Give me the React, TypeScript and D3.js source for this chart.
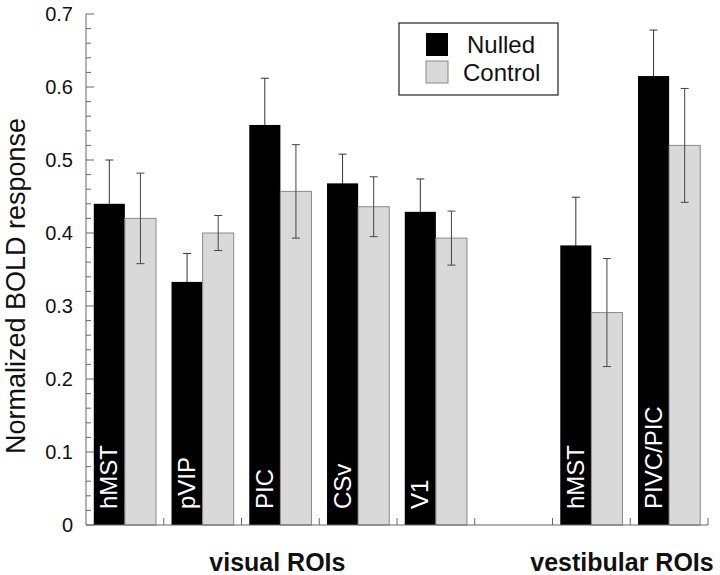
import React from "react";
import * as d3 from "d3";

const categories = ["hMST", "pVIP", "PIC", "CSv", "V1", "", "hMST", "PIVC/PIC"];
const slots = ["s0", "s1", "s2", "s3", "s4", "s5", "s6", "s7"];
const nulledValues = [0.44, 0.333, 0.548, 0.468, 0.429, null, 0.383, 0.615];
const nulledErrors = [0.06, 0.039, 0.064, 0.04, 0.045, null, 0.066, 0.063];
const controlValues = [0.42, 0.4, 0.457, 0.436, 0.393, null, 0.291, 0.52];
const controlErrors = [0.062, 0.024, 0.064, 0.041, 0.037, null, 0.074, 0.078];
const yTicks = [0, 0.1, 0.2, 0.3, 0.4, 0.5, 0.6, 0.7];
const yTickLabels = ["0", "0.1", "0.2", "0.3", "0.4", "0.5", "0.6", "0.7"];
const groupLabels = ["visual ROIs", "vestibular ROIs"];
const legendLabels = ["Nulled", "Control"];
const yTitle = "Normalized BOLD response";

const W = 720;
const H = 575;
const left = 86;
const right = 708;
const top = 14;
const bottom = 525;
const FONT = "'Liberation Sans', Arial, sans-serif";
const GRAY = "#d9d9d9";

export default function App() {
  const x = d3.scaleBand<string>().domain(slots).range([left, right]).paddingInner(0).paddingOuter(0);
  const y = d3.scaleLinear().domain([0, 0.7]).range([bottom, top]);
  const pad = x.bandwidth() * 0.1;
  const bw = (x.bandwidth() - 2 * pad) / 2;
  const minor = d3.range(0, 0.7001, 0.02);
  const cap = 4;

  const errBar = (cx: number, v: number, e: number, color: string, lowColor: string, key: string) => (
    <g key={key} strokeWidth={1}>
      <line x1={cx} x2={cx} y1={y(v + e)} y2={y(v)} stroke={color} />
      <line x1={cx} x2={cx} y1={y(v)} y2={y(v - e)} stroke={lowColor} />
      <line x1={cx - cap} x2={cx + cap} y1={y(v + e)} y2={y(v + e)} stroke={color} />
      <line x1={cx - cap} x2={cx + cap} y1={y(v - e)} y2={y(v - e)} stroke={lowColor} />
    </g>
  );

  return (
    <svg width={W} height={H} style={{ position: "absolute", left: 0, top: 0, background: "#fff" }} fontFamily={FONT}>
      {/* bars */}
      {slots.map((s, i) => {
        const nv = nulledValues[i];
        const cv = controlValues[i];
        if (nv == null || cv == null) return null;
        const x0 = (x(s) as number) + pad;
        return (
          <g key={s}>
            <rect x={x0} y={y(nv)} width={bw} height={y(0) - y(nv)} fill="#000" />
            <rect x={x0 + bw} y={y(cv)} width={bw} height={y(0) - y(cv)} fill={GRAY} stroke="#8a8a8a" strokeWidth={1} />
            {errBar(x0 + bw / 2, nv, nulledErrors[i] as number, "#333", "#000", "n")}
            {errBar(x0 + bw * 1.5, cv, controlErrors[i] as number, "#444", "#444", "c")}
            <text
              transform={`translate(${x0 + bw / 2 + 8},${bottom - 16}) rotate(-90)`}
              fill="#fff"
              fontSize={24}
            >
              {categories[i]}
            </text>
          </g>
        );
      })}

      {/* y axis */}
      <line x1={left} x2={left} y1={top} y2={bottom} stroke="#666" strokeWidth={1} />
      {minor.map((t, i) => (
        <line key={"m" + i} x1={left} x2={left + (i % 5 === 0 ? 8 : 5)} y1={y(t)} y2={y(t)} stroke="#666" strokeWidth={1} />
      ))}
      {yTicks.map((t, i) => (
        <text key={"t" + i} x={73} y={y(t) + 7} textAnchor="end" fontSize={20} fill="#111">
          {yTickLabels[i]}
        </text>
      ))}
      <text transform={`translate(25,286) rotate(-90)`} textAnchor="middle" fontSize={27} fill="#111">
        {yTitle}
      </text>

      {/* x axis */}
      <line x1={left} x2={right} y1={bottom} y2={bottom} stroke="#666" strokeWidth={1} />
      {slots.map((s) => (
        <line key={"xt" + s} x1={(x(s) as number) + x.bandwidth()} x2={(x(s) as number) + x.bandwidth()} y1={bottom} y2={bottom - 7} stroke="#666" strokeWidth={1} />
      ))}
      <text x={(left + (x("s5") as number)) / 2 - 3} y={571} textAnchor="middle" fontSize={25} fontWeight="bold" fill="#111">
        {groupLabels[0]}
      </text>
      <text x={622} y={571} textAnchor="middle" fontSize={25} fontWeight="bold" fill="#111">
        {groupLabels[1]}
      </text>

      {/* legend */}
      <rect x={399} y={23} width={159} height={72} fill="#fff" stroke="#222" strokeWidth={1.2} />
      <rect x={426} y={33} width={22} height={23} fill="#000" />
      <rect x={426} y={61} width={22} height={22} fill={GRAY} stroke="#8a8a8a" strokeWidth={1} />
      <text x={467} y={53} fontSize={24} fill="#111">{legendLabels[0]}</text>
      <text x={463} y={81} fontSize={24} fill="#111">{legendLabels[1]}</text>
    </svg>
  );
}
